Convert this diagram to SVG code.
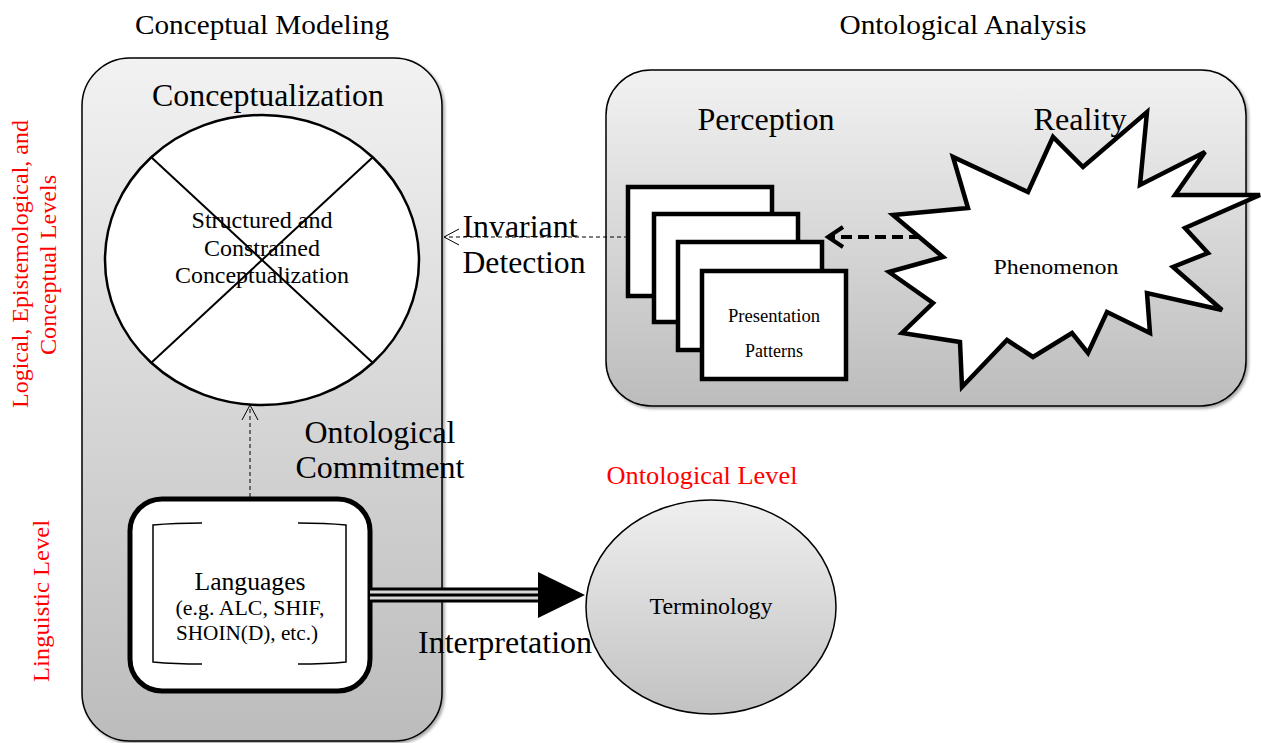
<svg xmlns="http://www.w3.org/2000/svg" width="1261" height="743" viewBox="0 0 1261 743">
<defs>
<linearGradient id="gbox" x1="0" y1="0" x2="0" y2="1">
<stop offset="0" stop-color="#f2f2f2"/>
<stop offset="1" stop-color="#bcbcbc"/>
</linearGradient>
<linearGradient id="gell" x1="0" y1="0" x2="0" y2="1">
<stop offset="0" stop-color="#efefef"/>
<stop offset="1" stop-color="#c2c2c2"/>
</linearGradient>
<filter id="sh" x="-5%" y="-5%" width="110%" height="110%">
<feDropShadow dx="2" dy="2" stdDeviation="1.5" flood-color="#000" flood-opacity="0.35"/>
</filter>
<style>
text{font-family:"Liberation Serif","Times New Roman",serif;fill:#000;text-anchor:middle}
.red{fill:#ff0000}
.box{fill:url(#gbox);stroke:#000;stroke-width:1.5;filter:url(#sh)}
.w{fill:#fff;stroke:#000}
.thin{fill:none;stroke:#000;stroke-width:1;stroke-dasharray:4 3}
.head{fill:none;stroke:#000;stroke-width:1}
</style>
</defs>
<rect width="1261" height="743" fill="#fff"/>

<text x="262" y="34" font-size="28" textLength="254" lengthAdjust="spacingAndGlyphs">Conceptual Modeling</text>
<text x="963" y="34" font-size="28" textLength="247" lengthAdjust="spacingAndGlyphs">Ontological Analysis</text>

<g id="side-labels">
<text class="red" font-size="24" textLength="288" lengthAdjust="spacingAndGlyphs" transform="translate(28,264) rotate(-90)">Logical, Epistemological, and</text>
<text class="red" font-size="24" textLength="180" lengthAdjust="spacingAndGlyphs" transform="translate(56,265) rotate(-90)">Conceptual Levels</text>
<text class="red" font-size="24" textLength="162" lengthAdjust="spacingAndGlyphs" transform="translate(49,601) rotate(-90)">Linguistic Level</text>
</g>

<g id="conceptual-modeling">
<rect class="box" x="82" y="58" width="360" height="683" rx="48"/>
<text x="268" y="106" font-size="31" textLength="232" lengthAdjust="spacingAndGlyphs">Conceptualization</text>
</g>

<g id="conceptualization">
<ellipse class="w" cx="262" cy="260" rx="157" ry="145" stroke-width="2.5"/>
<line x1="151" y1="157" x2="373" y2="363" stroke="#000" stroke-width="2"/>
<line x1="373" y1="157" x2="151" y2="363" stroke="#000" stroke-width="2"/>
<text x="262" y="228" font-size="23" textLength="141" lengthAdjust="spacingAndGlyphs">Structured and</text>
<text x="262" y="256" font-size="23" textLength="116" lengthAdjust="spacingAndGlyphs">Constrained</text>
<text x="262" y="283" font-size="23" textLength="174" lengthAdjust="spacingAndGlyphs">Conceptualization</text>
</g>

<g id="ontological-analysis">
<rect class="box" x="606" y="70" width="640" height="336" rx="45"/>
<text x="766" y="130" font-size="31" textLength="137" lengthAdjust="spacingAndGlyphs">Perception</text>
<text x="1080" y="130" font-size="31" textLength="93" lengthAdjust="spacingAndGlyphs">Reality</text>
</g>

<g id="presentation-patterns">
<rect class="w" x="628" y="187" width="144" height="109" stroke-width="4.5"/>
<rect class="w" x="654" y="214" width="144" height="108" stroke-width="4.5"/>
<rect class="w" x="678" y="242" width="144" height="108" stroke-width="4.5"/>
<rect class="w" x="702" y="271" width="144" height="108" stroke-width="4.5"/>
<text x="774" y="322" font-size="18" textLength="92" lengthAdjust="spacingAndGlyphs">Presentation</text>
<text x="774" y="357" font-size="18" textLength="58" lengthAdjust="spacingAndGlyphs">Patterns</text>
</g>

<g id="phenomenon">
<polygon class="w" stroke-width="4.5" stroke-linejoin="miter" points="1147,112 1140,185 1205,152 1175,195 1260,195 1185,228 1208,253 1173,267 1222,310 1147,293 1150,333 1107,312 1088,353 1072,333 1033,357 1007,340 962,387 960,342 902,333 933,303 889,272 943,257 893,215 968,208 953,157 1028,192 1053,137 1083,167"/>
<text x="1056" y="274" font-size="22" textLength="125" lengthAdjust="spacingAndGlyphs">Phenomenon</text>
</g>

<g id="languages">
<rect class="w" x="130" y="499" width="240" height="192" rx="32" stroke-width="5"/>
<path d="M202,523 Q175,523 153,525 L153,662 Q175,664 202,664" fill="none" stroke="#000" stroke-width="1.5"/>
<path d="M298,523 Q325,523 346,525 L346,662 Q325,664 298,664" fill="none" stroke="#000" stroke-width="1.5"/>
<text x="250" y="590" font-size="25" textLength="111" lengthAdjust="spacingAndGlyphs">Languages</text>
<text x="250" y="615" font-size="22" textLength="149" lengthAdjust="spacingAndGlyphs">(e.g. ALC, SHIF,</text>
<text x="247" y="640" font-size="22" textLength="142" lengthAdjust="spacingAndGlyphs">SHOIN(D), etc.)</text>
</g>

<g id="terminology">
<text class="red" x="702" y="484" font-size="26" textLength="191" lengthAdjust="spacingAndGlyphs">Ontological Level</text>
<ellipse cx="711" cy="607" rx="125" ry="107" fill="url(#gell)" stroke="#000" stroke-width="1.5"/>
<text x="711" y="614" font-size="24" textLength="123" lengthAdjust="spacingAndGlyphs">Terminology</text>
</g>

<g id="connectors">
<line class="thin" x1="628" y1="237" x2="445" y2="237"/>
<polyline class="head" points="459,229 444,237 459,245"/>
<text x="520" y="237" font-size="31" textLength="115" lengthAdjust="spacingAndGlyphs">Invariant</text>
<text x="524" y="273" font-size="31" textLength="123" lengthAdjust="spacingAndGlyphs">Detection</text>

<line x1="920" y1="237" x2="830" y2="237" stroke="#000" stroke-width="4" stroke-dasharray="11 6"/>
<polyline points="843,227 828,237 843,247" fill="none" stroke="#000" stroke-width="4"/>

<line class="thin" x1="250" y1="497" x2="250" y2="407"/>
<polyline class="head" points="242,420 250,405 258,420"/>
<text x="380" y="443" font-size="31" textLength="151" lengthAdjust="spacingAndGlyphs">Ontological</text>
<text x="380" y="478" font-size="31" textLength="169" lengthAdjust="spacingAndGlyphs">Commitment</text>

<line x1="370" y1="595" x2="542" y2="595" stroke="#000" stroke-width="15"/>
<line x1="370" y1="595" x2="542" y2="595" stroke="#d8d8d8" stroke-width="9"/>
<line x1="370" y1="595" x2="542" y2="595" stroke="#000" stroke-width="3"/>
<polygon points="538,572 585,595 538,618" fill="#000"/>
<text x="505" y="653" font-size="31" textLength="174" lengthAdjust="spacingAndGlyphs">Interpretation</text>
</g>
</svg>
